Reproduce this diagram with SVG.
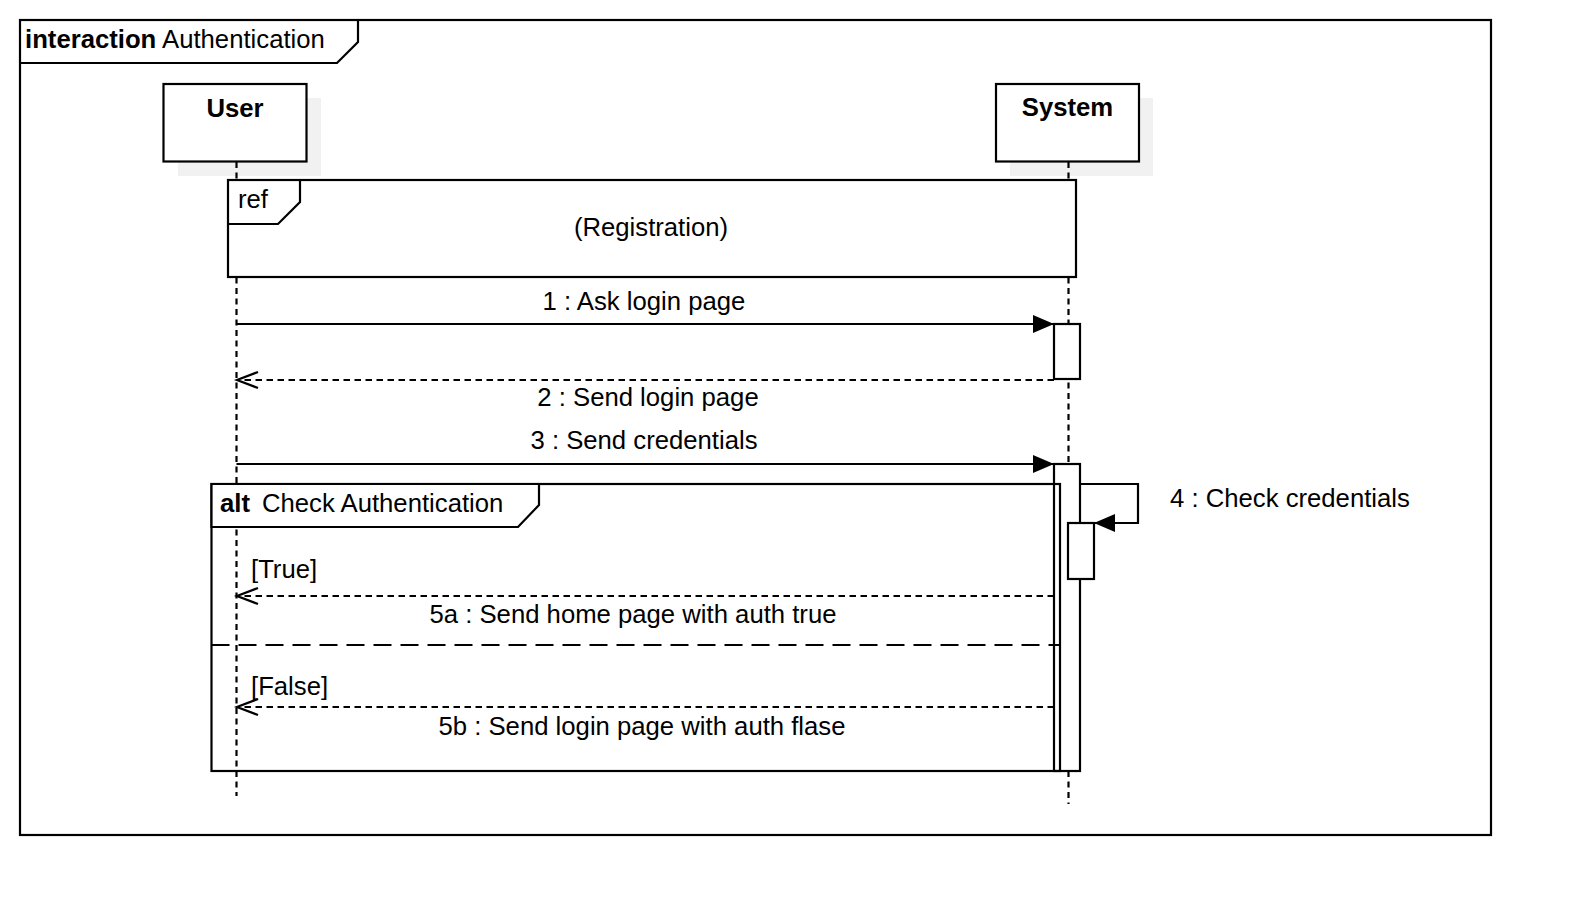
<svg xmlns="http://www.w3.org/2000/svg" width="1572" height="916" viewBox="0 0 1572 916">
<style>
text{font-family:"Liberation Sans",Arial,sans-serif;font-size:25.7px;fill:#000}
.b{font-weight:bold}
.ln{fill:none;stroke:#000;stroke-width:2.2}
.box{fill:#fff;stroke:#000;stroke-width:2.2}
.tab{fill:#fff;stroke:#000;stroke-width:2.2}
.sh{fill:#f1f1f1}
.life{fill:none;stroke:#000;stroke-width:2.2;stroke-dasharray:6 4.5}
.ret{fill:none;stroke:#000;stroke-width:2.2;stroke-dasharray:6.5 4.5}
.div{fill:none;stroke:#000;stroke-width:2.2;stroke-dasharray:18 9}
</style>
<defs>
<marker id="fill" markerUnits="userSpaceOnUse" markerWidth="24" markerHeight="20" refX="21" refY="9" orient="auto">
<path d="M0,0 L21,9 L0,18 z" fill="#000"/>
</marker>
<marker id="open" markerUnits="userSpaceOnUse" markerWidth="26" markerHeight="22" refX="22" refY="10" orient="auto">
<path d="M1,2 L22,10 L1,18" fill="none" stroke="#000" stroke-width="2.2"/>
</marker>
</defs>
<rect width="1572" height="916" fill="#fff"/>
<g id="frame">
<rect x="20" y="20" width="1471" height="815" class="ln"/>
<path d="M20,63 H337 L358,42 V20" class="ln"/>
<text x="25" y="48"><tspan class="b">interaction</tspan> Authentication</text>
</g>
<g id="user">
<rect x="178" y="98" width="143" height="78" class="sh"/>
<line x1="236.5" y1="162" x2="236.5" y2="796" class="life"/>
<rect x="163.5" y="84" width="143" height="77.5" class="box"/>
<text x="235" y="117" text-anchor="middle" class="b">User</text>
</g>
<g id="system">
<rect x="1010" y="98" width="143" height="78" class="sh"/>
<line x1="1068.5" y1="162" x2="1068.5" y2="804" class="life"/>
<rect x="996" y="84" width="143" height="77.5" class="box"/>
<text x="1067.5" y="116" text-anchor="middle" class="b">System</text>
</g>
<g id="ref">
<rect x="228" y="180" width="848" height="97" class="box"/>
<path d="M228,224 H278 L300,202 V180" class="ln"/>
<text x="238" y="208">ref</text>
<text x="651" y="236" text-anchor="middle">(Registration)</text>
</g>
<g id="activation1">
<rect x="1054" y="324" width="26" height="55" class="box"/>
</g>
<g id="activation2">
<rect x="1054" y="464" width="26" height="307" class="box"/>
<rect x="1068" y="523" width="26" height="56" class="box"/>
</g>
<g id="alt">
<rect x="211.5" y="484" width="848.5" height="287" class="ln"/>
<path d="M211.5,484 V527 H518 L539,505 V484 z" class="tab"/>
<line x1="211.5" y1="645" x2="1060" y2="645" class="div"/>
<text x="220" y="512"><tspan class="b">alt</tspan><tspan x="262">Check Authentication</tspan></text>
<text x="251" y="578">[True]</text>
<text x="251" y="695">[False]</text>
</g>
<g id="connectors">
<line x1="236.5" y1="324" x2="1054" y2="324" class="ln" marker-end="url(#fill)"/>
<text x="644" y="310" text-anchor="middle">1 : Ask login page</text>
<line x1="1054" y1="380" x2="237" y2="380" class="ret" marker-end="url(#open)"/>
<text x="648" y="406" text-anchor="middle">2 : Send login page</text>
<line x1="236.5" y1="464" x2="1054" y2="464" class="ln" marker-end="url(#fill)"/>
<text x="644" y="449" text-anchor="middle">3 : Send credentials</text>
<path d="M1080,484 H1138 V523 H1094" class="ln" marker-end="url(#fill)"/>
<text x="1170" y="507">4 : Check credentials</text>
<line x1="1054" y1="596" x2="237" y2="596" class="ret" marker-end="url(#open)"/>
<text x="633" y="623" text-anchor="middle">5a : Send home page with auth true</text>
<line x1="1054" y1="707" x2="237" y2="707" class="ret" marker-end="url(#open)"/>
<text x="642" y="735" text-anchor="middle">5b : Send login page with auth flase</text>
</g>
</svg>
